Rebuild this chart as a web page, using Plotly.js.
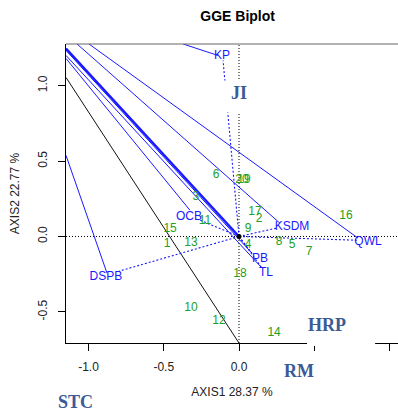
<!DOCTYPE html>
<html>
<head>
<meta charset="utf-8">
<script src="https://cdn.plot.ly/plotly-3.0.1.min.js"></script>
<style>html,body{margin:0;padding:0;background:#fff;}#chart{width:398px;height:412px;}</style>
</head>
<body>
<div id="chart"></div>
<script>
// Genotypes (green numbers)
const genoLabels = ['1','2','3','4','5','6','7','8','9','10','11','12','13','14','15','16','17','18','19','20'];
const genoX = [-0.478, 0.133, -0.286, 0.060, 0.352, -0.153, 0.465, 0.266, 0.060, -0.319, -0.226, -0.133, -0.319, 0.233, -0.458, 0.711, 0.106, 0.007, 0.033, 0.020];
const genoY = [-0.051, 0.115, 0.260, -0.058, -0.058, 0.406, -0.104, -0.038, 0.048, -0.475, 0.101, -0.561, -0.044, -0.640, 0.048, 0.134, 0.161, -0.250, 0.373, 0.373];

// Environments (blue labels): vector end points and label positions
const envNames = ['KP','OCB','KSDM','QWL','DSPB','PB','TL'];
const envX = [-0.106, -0.259, 0.246, 0.791, -0.797, 0.086, 0.153];
const envY = [1.168, 0.108, 0.055, -0.025, -0.230, -0.111, -0.210];
const envLabelX = [-0.113, -0.332, 0.352, 0.857, -0.884, 0.140, 0.179];
const envLabelY = [1.194, 0.128, 0.062, -0.038, -0.270, -0.150, -0.243];

// Solid blue lines reaching each environment from the upper-left
const lineStartX = [-0.372, -1.1495, -1.076, -0.997, -1.1495, -1.1495, -1.1495];
const lineStartY = [1.277, 1.181, 1.277, 1.277, 0.538, 1.234, 1.201];
const lineEndX = [-0.140, -0.326, 0.272, 0.791, -0.877, 0.086, 0.153];
const lineEndY = [1.201, 0.174, 0.088, -0.011, -0.243, -0.111, -0.210];

// Thick line to origin, black reference line
const thickLineX = [-1.1495, 0];
const thickLineY = [1.247, 0];
const blackLineX = [-1.1495, 0];
const blackLineY = [1.055, -0.707];

// Group labels (outside the plot)
const groupNames = ['JI','HRP','RM','STC'];
const groupPX = [0.521, 0.786, 0.702, 0.030];
const groupPY = [0.835, 0.060, -0.0935, -0.197];

const xTicks = [-1.0, -0.5, 0.0, 0.5, 1.0];
const xTickText = ['-1.0','-0.5','0.0','0.5','1.0'];
const yTicks = [-0.5, 0.0, 0.5, 1.0];
const yTickText = ['-0.5','0.0','0.5','1.0'];

const xRange = [-1.1495, 1.0565];
const yRange = [-0.7066, 1.2768];

const BLUE = 'rgb(25,25,255)';
const GREEN = '#22a022';
const GROUPC = '#3a5a98';
const SANS = 'Liberation Sans, Arial, sans-serif';
const SERIF = 'Liberation Serif, Times New Roman, serif';

const traces = [];
// axis dotted reference lines
traces.push({x: xRange, y: [0,0], mode:'lines', line:{color:'black', width:1, dash:'1px,2px'}, hoverinfo:'skip', showlegend:false});
traces.push({x: [0,0], y: yRange, mode:'lines', line:{color:'black', width:1, dash:'1px,2px'}, hoverinfo:'skip', showlegend:false});
// solid blue lines
for (let i = 0; i < envNames.length; i++) {
  traces.push({x:[lineStartX[i], lineEndX[i]], y:[lineStartY[i], lineEndY[i]], mode:'lines',
    line:{color:BLUE, width:1}, hoverinfo:'skip', showlegend:false});
}
traces.push({x: thickLineX, y: thickLineY, mode:'lines', line:{color:BLUE, width:2.4}, hoverinfo:'skip', showlegend:false});
traces.push({x: blackLineX, y: blackLineY, mode:'lines', line:{color:'#111', width:1}, hoverinfo:'skip', showlegend:false});
// dotted vectors
for (let i = 0; i < envNames.length; i++) {
  traces.push({x:[0, envX[i]], y:[0, envY[i]], mode:'lines',
    line:{color:BLUE, width:1.1, dash:'2px,2px'}, hoverinfo:'skip', showlegend:false});
}
// origin dot
traces.push({x:[0], y:[0], mode:'markers', marker:{color:'black', size:5}, hoverinfo:'skip', showlegend:false});
// genotype labels
traces.push({x: genoX, y: genoY, text: genoLabels, mode:'text', textposition:'middle center',
  textfont:{family:SANS, size:12, color:GREEN}, hoverinfo:'skip', showlegend:false});
// environment labels
traces.push({x: envLabelX, y: envLabelY, text: envNames, mode:'text', textposition:'middle center',
  textfont:{family:SANS, size:12, color:BLUE}, hoverinfo:'skip', showlegend:false});

const shapes = [
  {type:'line', xref:'paper', yref:'paper', x0:0, x1:1, y0:1, y1:1, line:{color:'#666', width:1.2}, layer:'above'},
  {type:'rect', xref:'paper', yref:'paper', x0:0.470, x1:0.572, y0:0.771, y1:0.878, fillcolor:'white', line:{width:0}, layer:'above'},
  {type:'rect', xref:'paper', yref:'paper', x0:0.726, x1:0.931, y0:-0.010, y1:0.110, fillcolor:'white', line:{width:0}, layer:'above'},
  {type:'rect', xref:'paper', yref:'paper', x0:0.645, x1:0.783, y0:-0.144, y1:-0.036, fillcolor:'white', line:{width:0}, layer:'above'}
];

const annotations = groupNames.map((n, i) => ({
  text: '<b>' + n + '</b>', xref:'paper', yref:'paper', x: groupPX[i], y: groupPY[i],
  xanchor:'center', yanchor:'middle', showarrow:false,
  font:{family:SERIF, size:18, color:GROUPC}
}));

const layout = {
  width: 398, height: 412,
  margin: {l:66, r:0, t:43.5, b:69, pad:0},
  paper_bgcolor:'white', plot_bgcolor:'white',
  showlegend:false,
  title: {text:'<b>GGE Biplot</b>', x:0.597, xref:'container', y:0.961, yref:'container', xanchor:'center', yanchor:'middle',
    font:{family:SANS, size:14, color:'black'}},
  xaxis: {range:xRange, tickvals:xTicks, ticktext:xTickText, showgrid:false, zeroline:false,
    showline:true, linecolor:'black', linewidth:1, ticks:'outside', ticklen:7, tickcolor:'black', tickwidth:1,
    tickfont:{family:SANS, size:12, color:'#222'}, ticklabelstandoff:6,
    title:{text:'AXIS1 28.37 %', font:{family:SANS, size:12, color:'#222'}, standoff:14}},
  yaxis: {range:yRange, tickvals:yTicks, ticktext:yTickText, showgrid:false, zeroline:false,
    showline:true, linecolor:'black', linewidth:1, ticks:'outside', ticklen:7, tickcolor:'black', tickwidth:1,
    tickangle:-90, tickfont:{family:SANS, size:12, color:'#222'}, ticklabelstandoff:6,
    title:{text:'AXIS2 22.77 %', font:{family:SANS, size:12, color:'#222'}, standoff:14}},
  shapes: shapes,
  annotations: annotations
};

Plotly.newPlot('chart', traces, layout, {staticPlot:true, displayModeBar:false});
</script>
</body>
</html>
